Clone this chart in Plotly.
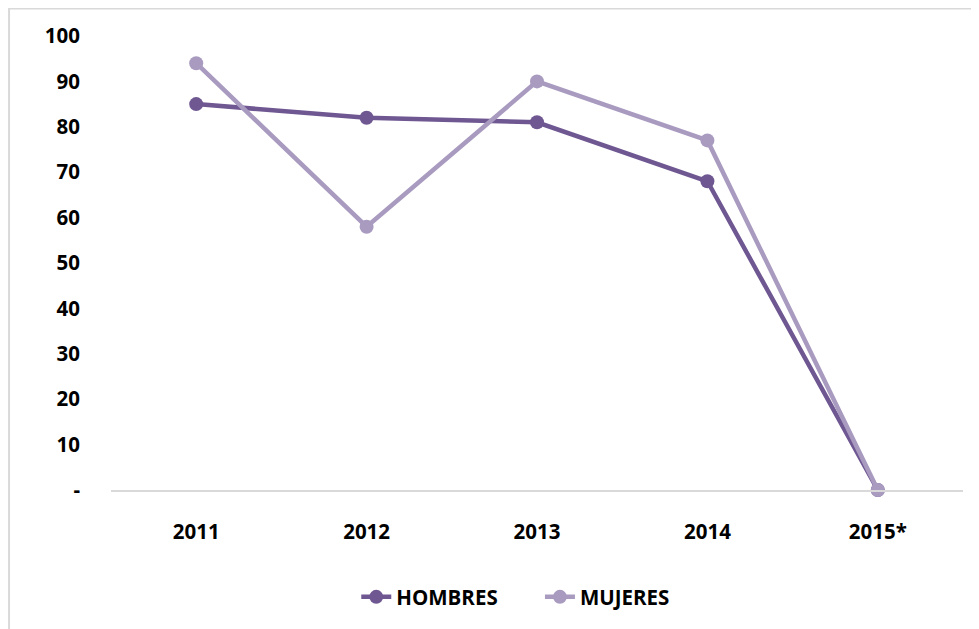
import plotly.graph_objects as go

years = ["2011", "2012", "2013", "2014", "2015*"]
hombres = [85, 82, 81, 68, 0]
mujeres = [94, 58, 90, 77, 0]
y_ticks = [0, 10, 20, 30, 40, 50, 60, 70, 80, 90, 100]
y_tick_text = ["-", "10", "20", "30", "40", "50", "60", "70", "80", "90", "100"]

c_h = "#6F5792"
c_m = "#A99BC0"
font_family = "Open Sans"
OFF = 8  # page body margin

fig = go.Figure()
fig.add_trace(go.Scatter(x=years, y=hombres, name="HOMBRES       ", mode="lines+markers",
                         line=dict(color=c_h, width=4.5), marker=dict(color=c_h, size=14),
                         cliponaxis=False))
fig.add_trace(go.Scatter(x=years, y=mujeres, name="MUJERES", mode="lines+markers",
                         line=dict(color=c_m, width=4.5), marker=dict(color=c_m, size=14),
                         cliponaxis=False))

W, H = 979, 629
L = 111 - OFF
T = 36 - OFF
right_px = 963.5 - OFF
bottom_px = 490 - OFF
R = W - right_px
B = H - bottom_px
pw = W - L - R
ph = H - T - B

def px_x(p):
    return (p - OFF - L) / pw

def px_y(p):
    return (H - B - (p - OFF)) / ph

fig.add_shape(type="rect", xref="paper", yref="paper",
              x0=px_x(9), x1=px_x(1000), y0=px_y(660), y1=px_y(8.5),
              line=dict(color="#D9D9D9", width=2), fillcolor="rgba(0,0,0,0)", layer="below")

tf = dict(family=font_family, size=20.5, color="#000000", weight="bold")

fig.update_layout(
    width=W, height=H,
    margin=dict(l=L, r=R, t=T, b=B),
    paper_bgcolor="white", plot_bgcolor="white",
    font=dict(family=font_family, size=20, color="#000000"),
    showlegend=True,
    legend=dict(orientation="h", x=px_x(516), xanchor="center", y=px_y(597), yanchor="middle",
                font=tf, bgcolor="rgba(0,0,0,0)"),
    xaxis=dict(type="category", range=[-0.5, 4.5], showgrid=False, zeroline=False,
               showline=True, linecolor="#D9D9D9", linewidth=1.5, ticks="",
               tickfont=tf, ticklabelstandoff=23, fixedrange=True),
    yaxis=dict(range=[0, 100], tickvals=y_ticks, ticktext=y_tick_text, showgrid=False,
               zeroline=False, showline=False, ticks="",
               tickfont=tf, ticklabelstandoff=30, fixedrange=True),
)

fig.write_html("out.html")
